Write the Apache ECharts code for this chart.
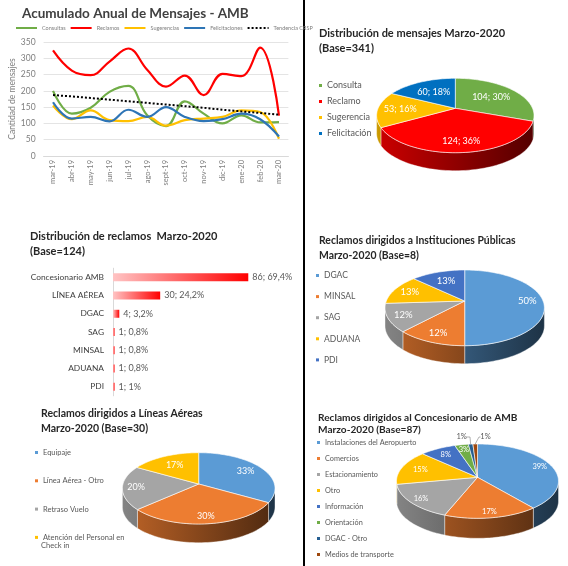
<!DOCTYPE html>
<html>
<head>
<meta charset="utf-8">
<title>Mensajes AMB</title>
<script src="https://cdn.jsdelivr.net/npm/echarts@6/dist/echarts.min.js"></script>
<style>
html,body{margin:0;padding:0;background:#fff}
#chart{width:568px;height:566px}
</style>
</head>
<body>
<div id="chart"></div>
<script>
// datos
const months = ['mar-19','abr-19','may-19','jun-19','jul-19','ago-19','sept-19','oct-19','nov-19','dic-19','ene-20','feb-20','mar-20'];
const consultas = [200,130,148,197,215,125,92,168,130,100,125,103,104];
const reclamos = [324,262,248,290,330,265,213,247,187,252,245,333,124];
const sugerencias = [155,113,140,110,107,120,93,110,115,120,140,135,53];
const felicitaciones = [165,115,120,106,142,120,150,120,107,113,130,113,60];
const tendencia = [187,183,178,173,168,163,158,153,148,142,137,132,127];

const mensajesNames = ['Consulta','Reclamo','Sugerencia','Felicitación'];
const mensajesValues = [104,124,53,60];
const mensajesLabels = ['104; 30%','124; 36%','53; 16%','60; 18%'];

const reclamosCats = ['Concesionario AMB','LÍNEA AÉREA','DGAC','SAG','MINSAL','ADUANA','PDI'];
const reclamosValues = [86,30,4,1,1,1,1];
const reclamosLabels = ['86; 69,4%','30; 24,2%','4; 3,2%','1; 0,8%','1; 0,8%','1; 0,8%','1; 1%'];

const institNames = ['DGAC','MINSAL','SAG','ADUANA','PDI'];
const institValues = [50,12,12,13,13];
const institLabels = ['50%','12%','12%','13%','13%'];

const lineasNames = ['Equipaje','Línea Aérea - Otro','Retraso Vuelo','Atención del Personal en'];
const lineasValues = [10,9,6,5];
const lineasLabels = ['33%','30%','20%','17%'];

const concesNames = ['Instalaciones del Aeropuerto','Comercios','Estacionamiento','Otro','Información','Orientación','DGAC - Otro','Medios de transporte'];
const concesValues = [39,17,16,15,8,3,1,1];
const concesLabels = ['39%','17%','16%','15%','8%','3%','1%','1%'];

const FONT = 'Lato, "Open Sans", sans-serif';
const GRAY = '#595959';

function shade(hex, f){
    const n = parseInt(hex.slice(1),16);
    const c = [n>>16, (n>>8)&255, n&255].map(v=>Math.round(v*f));
    return 'rgb('+c.join(',')+')';
}

// pastel 3D: una serie custom por porcion, asi la leyenda sale sola
function pie3d(names, values, labels, colors, p){
    const total = values.reduce((a,b)=>a+b,0);
    const k = (p.bot-p.top)/(p.bot+p.top);
    const B = p.top*(1+k);
    const A = p.half*Math.sqrt(1-k*k);
    const rim = (deg,f=1)=>{
        const t = deg*Math.PI/180;
        const w = 1+k*Math.cos(t);
        return [p.cx+f*A*Math.sin(t)/w, p.ay-f*B*Math.cos(t)/w];
    };
    const edge = Math.acos(-k)*180/Math.PI;
    let acc = 0;
    return names.map((name,i)=>{
        const a0 = acc/total*360;
        acc += values[i];
        const a1 = acc/total*360;
        const color = colors[i];
        return {
            type:'custom',
            name:name,
            coordinateSystem:'none',
            silent:true,
            itemStyle:{color:color},
            data:[[values[i]]],
            renderItem:function(){
                const children = [];
                const from = Math.max(a0,edge), to = Math.min(a1,360-edge);
                if(to>from){
                    const front = [], back = [];
                    for(let d=from;d<to;d+=2){ front.push(rim(d)); }
                    front.push(rim(to));
                    front.forEach(q=>back.unshift([q[0],q[1]+p.depth]));
                    children.push({
                        type:'polygon',
                        shape:{points:front.concat(back)},
                        style:{
                            fill:new echarts.graphic.LinearGradient(p.cx-p.half,0,p.cx+p.half,0,[
                                {offset:0,color:shade(color,0.8)},
                                {offset:1,color:shade(color,0.33)}
                            ],true),
                            stroke:'#fff',lineWidth:0.4
                        }
                    });
                }
                const top = [[p.cx,p.ay]];
                for(let d=a0;d<a1;d+=2){ top.push(rim(d)); }
                top.push(rim(a1));
                children.push({
                    type:'polygon',
                    shape:{points:top},
                    style:{fill:color,stroke:'#fff',lineWidth:0.6}
                });
                const mid = (a0+a1)/2;
                const out = p.outside && p.outside[i];
                if(out){
                    const end = rim(mid);
                    children.push({
                        type:'polyline',
                        shape:{points:[[out.lx,out.y],[out.ex,out.y],end]},
                        style:{fill:null,stroke:'#7f7f7f',lineWidth:0.6}
                    });
                }
                const pos = out ? [out.x,out.y] : rim(mid,p.frac[i]);
                children.push({
                    type:'text',
                    style:{
                        text:labels[i],x:pos[0],y:pos[1],
                        fill:out?GRAY:'#fff',
                        font:p.font+'px '+FONT,
                        align:'center',verticalAlign:'middle'
                    }
                });
                return {type:'group',children:children};
            }
        };
    });
}

const titleAt = (text,left,top,size,color,lh)=>({
    text:text,left:left,top:top,padding:0,
    textStyle:{fontFamily:FONT,fontWeight:'bold',fontSize:size,color:color||'#262626',lineHeight:lh||15}
});
const pieLegend = (names,left,top,gap,size)=>({
    data:names,orient:'vertical',left:left,top:top,padding:0,
    icon:'rect',itemWidth:3,itemHeight:3,itemGap:gap-11,selectedMode:false,
    textStyle:{fontFamily:FONT,fontSize:size,color:GRAY,lineHeight:11}
});
const lineSerie = (name,data,color)=>({
    type:'line',name:name,data:data,smooth:0.4,showSymbol:false,symbol:'none',
    itemStyle:{color:color},lineStyle:{color:color,width:2.2}
});

const chart = echarts.init(document.getElementById('chart'));
chart.setOption({
    animation:false,
    backgroundColor:'#fff',
    title:[
        titleAt('Acumulado Anual de Mensajes - AMB',22,6,13.5,'#404040'),
        titleAt('Distribución de mensajes Marzo-2020\n(Base=341)',319,26,11),
        titleAt('Distribución de reclamos  Marzo-2020\n(Base=124)',30,229,11),
        titleAt('Reclamos dirigidos a Instituciones Públicas\nMarzo-2020 (Base=8)',319,233,10.4),
        titleAt('Reclamos dirigidos a Líneas Aéreas\nMarzo-2020 (Base=30)',41,406,10.5),
        titleAt('Reclamos dirigidos al Concesionario de AMB\nMarzo-2020 (Base=87)',318,411,10.1,'#262626',12.5)
    ],
    legend:[
        {
            data:['Consultas','Reclamos','Sugerencias','Felicitaciones','Tendencia CRSP'],
            left:15,top:25,padding:0,itemWidth:21,itemHeight:6,itemGap:4,selectedMode:false,
            itemStyle:{opacity:0},
            textStyle:{fontFamily:FONT,fontSize:5.5,color:'#7f7f7f'}
        },
        pieLegend(mensajesNames,319,80,16,9),
        pieLegend(institNames,316,270,21.1,8.5),
        pieLegend(lineasNames,35,447,28.3,7.5),
        pieLegend(concesNames,317,437,16,7.3)
    ],
    grid:[
        {left:43.6,width:244.8,top:42,height:114},
        {left:113,width:157.3,top:268.2,height:127.6}
    ],
    xAxis:[
        {
            gridIndex:0,type:'category',data:months,
            axisLine:{lineStyle:{color:'#d9d9d9'}},axisTick:{show:false},
            axisLabel:{rotate:90,fontSize:7.5,color:'#7f7f7f',fontFamily:FONT,interval:0,margin:4}
        },
        {gridIndex:1,type:'value',min:0,max:100,show:false}
    ],
    yAxis:[
        {
            gridIndex:0,type:'value',min:0,max:350,interval:50,
            name:'Cantidad de mensajes',nameLocation:'middle',nameGap:13,
            nameTextStyle:{fontSize:8.5,color:'#7f7f7f',fontFamily:FONT},
            axisLine:{show:false},axisTick:{show:false},
            axisLabel:{fontSize:8.5,color:'#7f7f7f',fontFamily:FONT,margin:8},
            splitLine:{lineStyle:{color:'#e4e4e4'}}
        },
        {
            gridIndex:1,type:'category',data:reclamosCats,inverse:true,
            axisLine:{lineStyle:{color:'#d9d9d9'}},axisTick:{show:false},
            axisLabel:{fontSize:8.4,color:'#404040',fontFamily:FONT,margin:9}
        }
    ],
    graphic:[
        {type:'rect',left:303,top:0,shape:{width:2,height:566},style:{fill:'#000'}},
        {type:'text',left:41,top:542,style:{text:'Check in',fill:GRAY,font:'7.5px '+FONT}}
    ],
    series:[
        lineSerie('Consultas',consultas,'#70ad47'),
        lineSerie('Reclamos',reclamos,'#ff0000'),
        lineSerie('Sugerencias',sugerencias,'#ffc000'),
        lineSerie('Felicitaciones',felicitaciones,'#2e75b6'),
        {
            type:'line',name:'Tendencia CRSP',data:tendencia,showSymbol:false,symbol:'none',
            itemStyle:{color:'#000'},lineStyle:{color:'#000',width:2,type:'dotted'}
        },
        {
            type:'bar',xAxisIndex:1,yAxisIndex:1,data:reclamosValues,barWidth:8,
            itemStyle:{color:new echarts.graphic.LinearGradient(0,0,1,0,[
                {offset:0,color:'#ffc4c4'},{offset:1,color:'#ff0000'}
            ])},
            label:{
                show:true,position:'right',distance:4,fontSize:9,color:GRAY,fontFamily:FONT,
                formatter:params=>reclamosLabels[params.dataIndex]
            }
        },
        ...pie3d(mensajesNames,mensajesValues,mensajesLabels,['#70ad47','#ff0000','#ffc000','#0070c0'],
            {cx:455.3,ay:108.3,top:30,bot:44.4,half:78.7,depth:18,font:9,frac:[.63,.75,.71,.62]}),
        ...pie3d(institNames,institValues,institLabels,['#5b9bd5','#ed7d31','#a5a5a5','#ffc000','#4472c4'],
            {cx:464.7,ay:301,top:31,bot:44.7,half:79.7,depth:18,font:9.5,frac:[.8,.77,.8,.79,.7]}),
        ...pie3d(lineasNames,lineasValues,lineasLabels,['#5b9bd5','#ed7d31','#a5a5a5','#ffc000'],
            {cx:198.7,ay:484,top:31.3,bot:40,half:76.3,depth:18.7,font:9,frac:[.76,.8,.82,.7]}),
        ...pie3d(concesNames,concesValues,concesLabels,['#5b9bd5','#ed7d31','#a5a5a5','#ffc000','#4472c4','#70ad47','#255e91','#9e480e'],
            {cx:477.5,ay:477.3,top:33.3,bot:41,half:81,depth:20,font:7.5,frac:[.85,.85,.85,.76,.8,.85],
             outside:{6:{x:461.7,y:437,lx:466,ex:470},7:{x:485.5,y:437,lx:480.5,ex:479}}})
    ]
});
</script>
</body>
</html>
